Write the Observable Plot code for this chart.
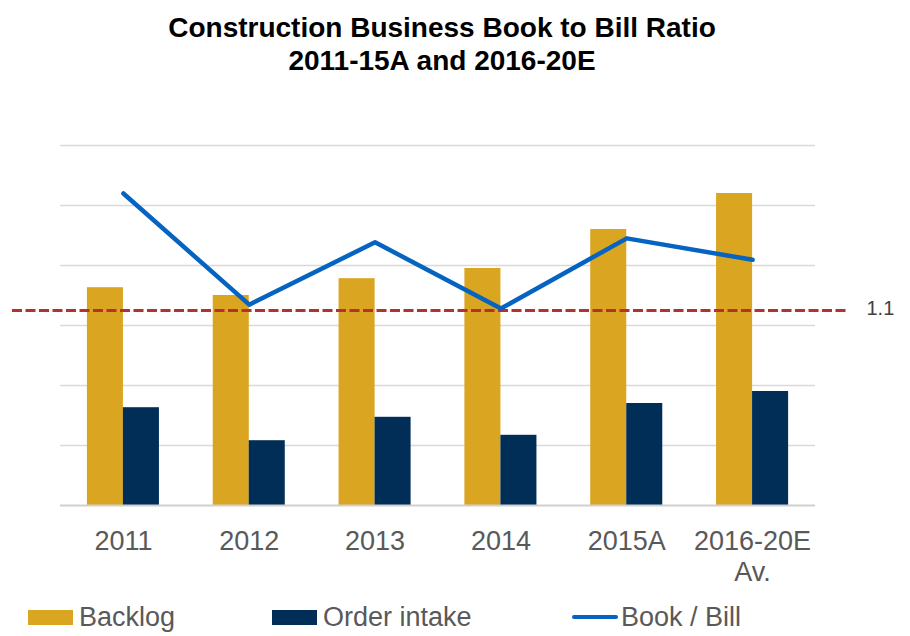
<!DOCTYPE html>
<html>
<head>
<meta charset="utf-8">
<script src="https://cdn.jsdelivr.net/npm/d3@7"></script>
<script src="https://cdn.jsdelivr.net/npm/@observablehq/plot@0.6"></script>
<style>
  html, body { margin: 0; padding: 0; background: #fff; }
  body { width: 910px; height: 636px; position: relative; overflow: hidden; font-family: "Liberation Sans", Arial, sans-serif; }
  #title { position: absolute; left: 0; top: 11px; width: 884px; text-align: center; font-weight: bold; font-size: 28px; line-height: 33px; color: #000; }
  #chart { position: absolute; left: 0; top: 80px; }
  .leg { position: absolute; top: 600px; height: 34px; font-size: 27px; line-height: 34px; color: #595959; }
  .sw { position: absolute; }
</style>
</head>
<body>
<div id="title">Construction Business Book to Bill Ratio<br>2011-15A and 2016-20E</div>
<div id="chart"></div>
<div class="sw" style="left:28px;top:610px;width:45px;height:15px;background:#DAA520"></div>
<div class="leg" style="left:79px">Backlog</div>
<div class="sw" style="left:272px;top:610px;width:45px;height:15px;background:#002E56"></div>
<div class="leg" style="left:323px">Order intake</div>
<div class="sw" style="left:572px;top:615px;width:46px;height:4px;background:#0563C1;border-radius:2px"></div>
<div class="leg" style="left:621px">Book / Bill</div>
<script>
const categories = ["2011", "2012", "2013", "2014", "2015A", "2016-20E\nAv."];
const backlog = [3.63, 3.50, 3.78, 3.95, 4.60, 5.20];
const orderIntake = [1.63, 1.08, 1.47, 1.17, 1.70, 1.90];
const bookToBill = [1.160, 1.103, 1.135, 1.101, 1.137, 1.126];
const referenceRatio = 1.1;
const gridTicks = [1, 2, 3, 4, 5, 6];

// secondary (ratio) axis expressed in primary units
const ratioBase = 1.0, ratioScale = 32.5;
const toPrimary = r => (r - ratioBase) * ratioScale;

const bars = categories.map((c, i) => ({cat: c, backlog: backlog[i], order: orderIntake[i]}));
const line = categories.map((c, i) => ({cat: c, ratio: bookToBill[i]}));

const chart = Plot.plot({
  width: 910,
  height: 510,
  marginLeft: 60,
  marginRight: 95,
  marginTop: 65,
  marginBottom: 85,
  style: {fontFamily: "Liberation Sans, Arial, sans-serif", background: "transparent", overflow: "visible"},
  x: {domain: categories, padding: 0, round: false, axis: null},
  y: {domain: [0, 6], axis: null},
  marks: [
    Plot.ruleY(gridTicks, {stroke: "#D9D9D9", strokeWidth: 1.5}),
    Plot.barY(bars, {x: "cat", y: "backlog", fill: "#DAA520", insetLeft: 26.9, insetRight: 62.9}),
    Plot.barY(bars, {x: "cat", y: "order", fill: "#002E56", insetLeft: 62.9, insetRight: 26.9}),
    Plot.ruleY([0], {stroke: "#D0D0D0", strokeWidth: 2}),
    Plot.ruleY([referenceRatio], {y: toPrimary, stroke: "#B5302E", strokeWidth: 3, strokeDasharray: "10,3.5", insetLeft: -48, insetRight: -33}),
    Plot.text([referenceRatio], {y: toPrimary, text: d => String(d), frameAnchor: "right", dx: 51, dy: -2, textAnchor: "start", fontSize: 20, fill: "#404040"}),
    Plot.line(line, {x: "cat", y: d => toPrimary(d.ratio), stroke: "#0563C1", strokeWidth: 4.5}),
    Plot.text(categories, {x: d => d, text: d => d, frameAnchor: "bottom", lineAnchor: "top", dy: 22, fontSize: 27, lineHeight: 1.15, fill: "#595959"})
  ]
});
document.getElementById("chart").appendChild(chart);
</script>
</body>
</html>
